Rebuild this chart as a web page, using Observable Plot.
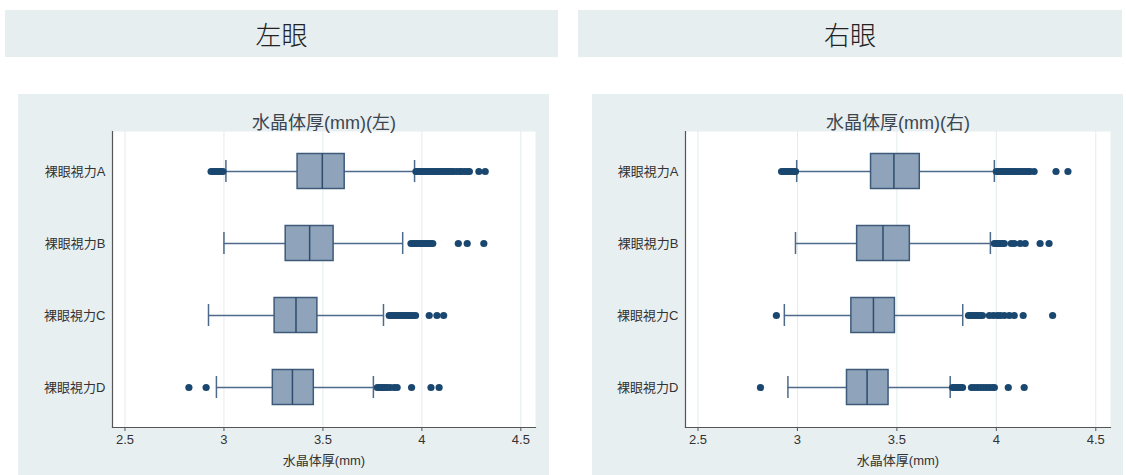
<!DOCTYPE html>
<html><head><meta charset="utf-8">
<script src="https://cdn.jsdelivr.net/npm/d3@7"></script>
<script src="https://cdn.jsdelivr.net/npm/@observablehq/plot@0.6"></script>
<style>
body{margin:0;width:1126px;height:475px;background:#fff;position:relative;overflow:hidden;font-family:"Liberation Sans","Noto Sans CJK JP",sans-serif;}
.hdr{position:absolute;top:10px;height:47px;background:#e6eef0;display:flex;align-items:center;justify-content:center;font-size:26px;color:#222;font-family:"Noto Sans CJK JP",sans-serif;font-weight:300;}
.panel{position:absolute;top:94px;}
</style></head><body>
<div class="hdr" style="left:5px;width:553px">左眼</div>
<div class="hdr" style="left:578px;width:544px">右眼</div>
<div id="left" class="panel" style="left:18px"></div>
<div id="right" class="panel" style="left:592px"></div>
<script>
const categories = ["裸眼視力A", "裸眼視力B", "裸眼視力C", "裸眼視力D"];
const xTicks = [2.5, 3, 3.5, 4, 4.5];
const xDomain = [2.437, 4.574];
const axisTitle = "水晶体厚(mm)";

// Left eye
const leftTitle = "水晶体厚(mm)(左)";
const leftLow = [3.01, 3.00, 2.922, 2.962];
const leftQ1 = [3.372, 3.312, 3.256, 3.247];
const leftMedian = [3.497, 3.433, 3.364, 3.346];
const leftQ3 = [3.61, 3.554, 3.472, 3.454];
const leftHigh = [3.963, 3.903, 3.806, 3.755];
const leftOutA = [2.935, 2.945, 2.955, 2.965, 2.975, 2.985, 2.995,
  3.97, 3.98, 3.99, 4.00, 4.01, 4.02, 4.03, 4.04, 4.05, 4.06, 4.07, 4.08, 4.09, 4.10, 4.11, 4.12, 4.13, 4.14, 4.15, 4.16, 4.175, 4.19, 4.20, 4.215, 4.23, 4.24, 4.288, 4.32];
const leftOutB = [3.945, 3.955, 3.965, 3.975, 3.985, 3.995, 4.005, 4.015, 4.025, 4.035, 4.045, 4.055, 4.184, 4.229, 4.313];
const leftOutC = [3.835, 3.845, 3.855, 3.865, 3.875, 3.885, 3.895, 3.905, 3.915, 3.925, 3.935, 3.945, 3.955, 3.968, 4.037, 4.076, 4.11];
const leftOutD = [2.823, 2.91, 3.775, 3.785, 3.795, 3.805, 3.815, 3.825, 3.84, 3.86, 3.875, 3.948, 4.046, 4.087];
const leftOutliers = [leftOutA, leftOutB, leftOutC, leftOutD];

// Right eye
const rightTitle = "水晶体厚(mm)(右)";
const rightLow = [2.996, 2.99, 2.934, 2.952];
const rightQ1 = [3.37, 3.30, 3.271, 3.249];
const rightMedian = [3.485, 3.43, 3.382, 3.35];
const rightQ3 = [3.615, 3.565, 3.49, 3.458];
const rightHigh = [3.99, 3.97, 3.831, 3.768];
const rightOutA = [2.92, 2.93, 2.94, 2.95, 2.96, 2.97, 2.98, 2.99,
  4.00, 4.01, 4.02, 4.03, 4.04, 4.05, 4.06, 4.07, 4.08, 4.09, 4.10, 4.11, 4.12, 4.13, 4.14, 4.15, 4.16, 4.17, 4.19, 4.30, 4.36];
const rightOutB = [3.99, 4.00, 4.01, 4.02, 4.03, 4.04, 4.075, 4.09, 4.12, 4.145, 4.22, 4.265];
const rightOutC = [2.894, 3.86, 3.87, 3.88, 3.89, 3.90, 3.91, 3.92, 3.93, 3.965, 3.985, 4.005, 4.02, 4.04, 4.065, 4.09, 4.135, 4.283];
const rightOutD = [2.814, 3.78, 3.79, 3.80, 3.81, 3.82, 3.83, 3.875, 3.89, 3.905, 3.92, 3.935, 3.95, 3.965, 3.98, 3.99, 4.06, 4.14];
const rightOutliers = [rightOutA, rightOutB, rightOutC, rightOutD];

function panel(title, low, q1, med, q3, high, outliers, marginLeft, marginRight) {
  const rows = categories.map((c, i) => ({cat: c, low: low[i], q1: q1[i], med: med[i], q3: q3[i], high: high[i]}));
  const pts = categories.flatMap((c, i) => outliers[i].map(v => ({cat: c, v})));
  const line = "#4d6a8a";
  return Plot.plot({
    width: 531, height: 381,
    marginLeft, marginRight, marginTop: 37, marginBottom: 48,
    style: {background: "#e8eff1", fontFamily: '"Liberation Sans","Noto Sans CJK JP",sans-serif', fontSize: "13px", color: "#333", overflow: "visible"},
    x: {domain: xDomain},
    y: {domain: categories, padding: 0.055},
    marks: [
      Plot.frame({fill: "white", stroke: null}),
      Plot.gridX(xTicks, {stroke: "#e3ebee", strokeOpacity: 1}),
      Plot.frame({anchor: "left", stroke: "#555", strokeWidth: 1.2}),
      Plot.frame({anchor: "bottom", stroke: "#555", strokeWidth: 1.2}),
      Plot.axisX(xTicks, {tickSize: 4, tickPadding: 3, label: null, fontSize: 13, stroke: "#555", tickFormat: d => String(d)}),
      Plot.axisY({tickSize: 0, tickPadding: 7, label: null, fontSize: 13}),
      Plot.ruleY(rows, {y: "cat", x1: "low", x2: "high", stroke: line, strokeWidth: 1.5}),
      Plot.tickX(rows, {x: "low", y: "cat", insetTop: 23, insetBottom: 23, stroke: line, strokeWidth: 1.5}),
      Plot.tickX(rows, {x: "high", y: "cat", insetTop: 23, insetBottom: 23, stroke: line, strokeWidth: 1.5}),
      Plot.barX(rows, {y: "cat", x1: "q1", x2: "q3", fill: "#8fa4bb", stroke: "#3e5a7a", strokeWidth: 1.5, insetTop: 16.5, insetBottom: 16.5}),
      Plot.tickX(rows, {x: "med", y: "cat", insetTop: 16.5, insetBottom: 16.5, stroke: "#2f4c6c", strokeWidth: 1.5}),
      Plot.dot(pts, {x: "v", y: "cat", r: 3.6, fill: "#1a476f"}),
      Plot.text([title], {text: d => d, frameAnchor: "top", lineAnchor: "middle", dy: -8, fontSize: 18, fill: "#3c4650"}),
      Plot.text([axisTitle], {text: d => d, frameAnchor: "bottom", lineAnchor: "middle", dy: 33, fontSize: 13, fill: "#333"})
    ]
  });
}

document.getElementById("left").appendChild(panel(leftTitle, leftLow, leftQ1, leftMedian, leftQ3, leftHigh, leftOutliers, 94, 14));
document.getElementById("right").appendChild(panel(rightTitle, rightLow, rightQ1, rightMedian, rightQ3, rightHigh, rightOutliers, 93, 13));
</script>
</body></html>
